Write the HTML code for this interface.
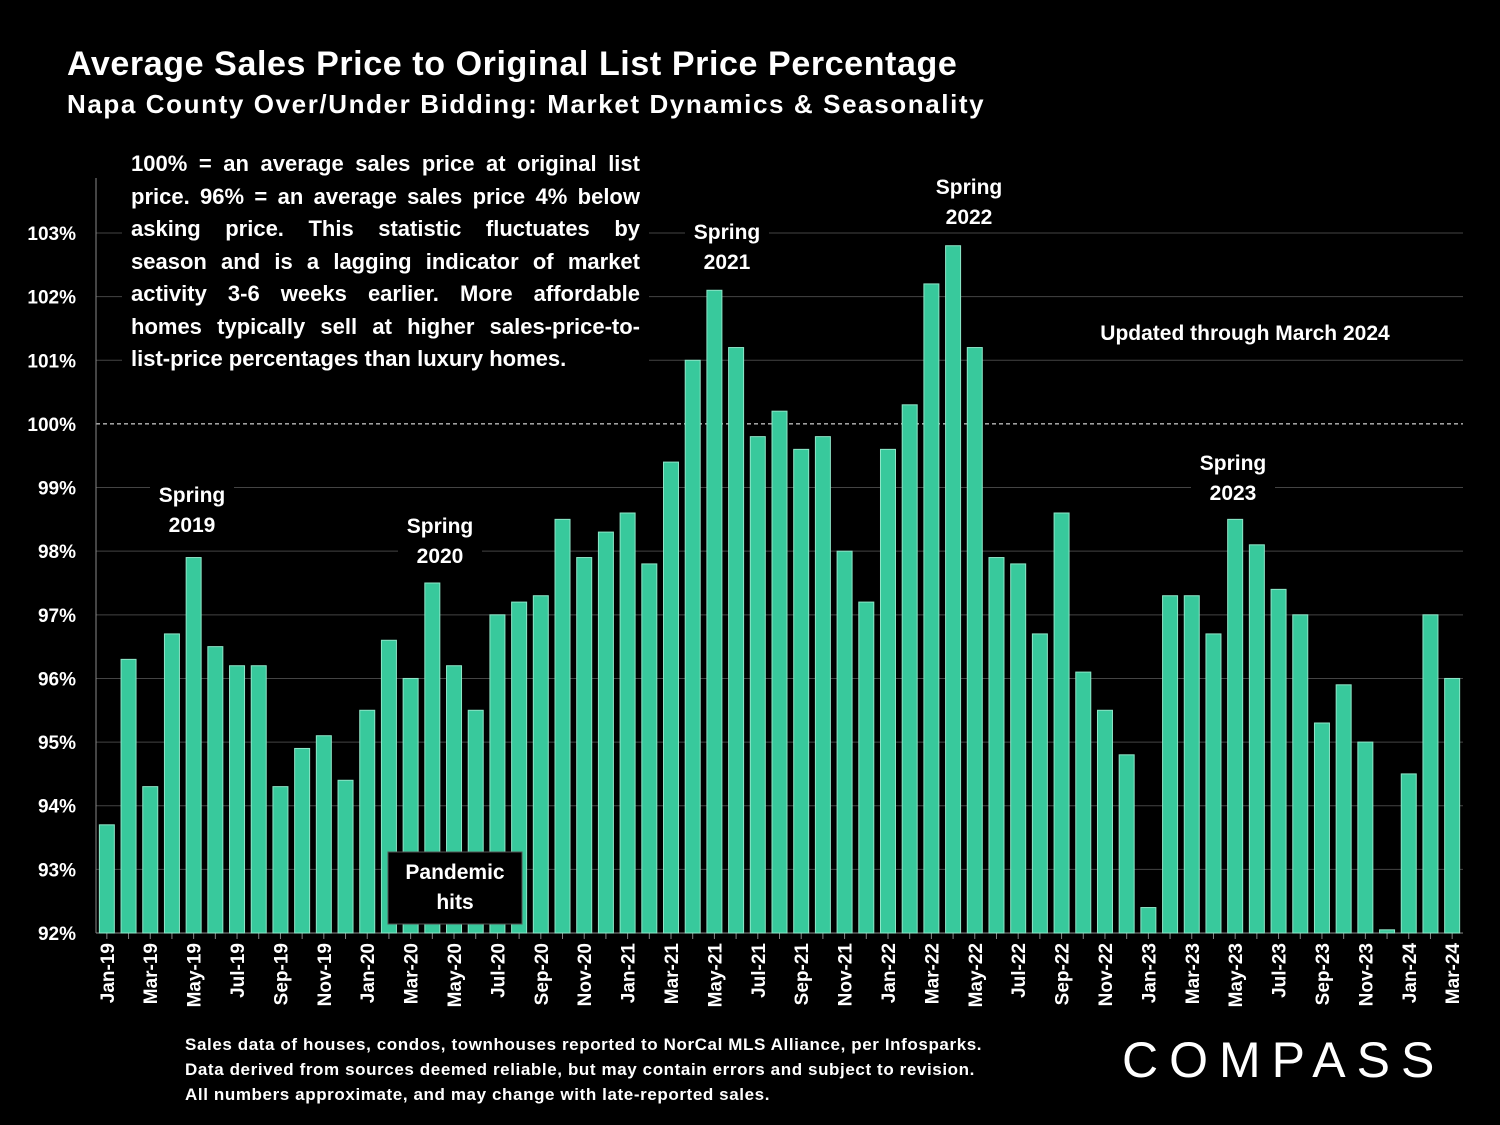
<!DOCTYPE html>
<html><head><meta charset="utf-8"><style>
body{margin:0;background:#000;width:1500px;height:1125px;overflow:hidden;font-family:"Liberation Sans",sans-serif;color:#fff}
.ln{text-align:justify;text-align-last:justify;height:32.5px;white-space:nowrap}
.ln.last{text-align-last:left}
</style></head><body>
<svg id="chart" width="1500" height="1125" xmlns="http://www.w3.org/2000/svg" style="position:absolute;left:0;top:0">
<text x="67" y="75" font-size="34" font-weight="bold" fill="#fff" letter-spacing="0.6">Average Sales Price to Original List Price Percentage</text>
<text x="67" y="113" font-size="26" font-weight="bold" fill="#fff" letter-spacing="1.6">Napa County Over/Under Bidding: Market Dynamics &amp; Seasonality</text>
<g id="grid"></g><g id="bars"></g><g id="xlabels"></g>
</svg>
<script>
const categories=["Jan-19","Feb-19","Mar-19","Apr-19","May-19","Jun-19","Jul-19","Aug-19","Sep-19","Oct-19","Nov-19","Dec-19","Jan-20","Feb-20","Mar-20","Apr-20","May-20","Jun-20","Jul-20","Aug-20","Sep-20","Oct-20","Nov-20","Dec-20","Jan-21","Feb-21","Mar-21","Apr-21","May-21","Jun-21","Jul-21","Aug-21","Sep-21","Oct-21","Nov-21","Dec-21","Jan-22","Feb-22","Mar-22","Apr-22","May-22","Jun-22","Jul-22","Aug-22","Sep-22","Oct-22","Nov-22","Dec-22","Jan-23","Feb-23","Mar-23","Apr-23","May-23","Jun-23","Jul-23","Aug-23","Sep-23","Oct-23","Nov-23","Dec-23","Jan-24","Feb-24","Mar-24"];
const values=[93.7,96.3,94.3,96.7,97.9,96.5,96.2,96.2,94.3,94.9,95.1,94.4,95.5,96.6,96.0,97.5,96.2,95.5,97.0,97.2,97.3,98.5,97.9,98.3,98.6,97.8,99.4,101.0,102.1,101.2,99.8,100.2,99.6,99.8,98.0,97.2,99.6,100.3,102.2,102.8,101.2,97.9,97.8,96.7,98.6,96.1,95.5,94.8,92.4,97.3,97.3,96.7,98.5,98.1,97.4,97.0,95.3,95.9,95.0,92.05,94.5,97.0,96.0];
const yTicks=[92,93,94,95,96,97,98,99,100,101,102,103];
const NS="http://www.w3.org/2000/svg";
const X0=96,X1=1463,Y0=933,Ymin=92,Ymax=103,Ytop=233;
const y=v=>Y0-(v-Ymin)*(Y0-Ytop)/(Ymax-Ymin);
const step=(X1-X0)/categories.length;
const xc=i=>X0+step*(i+0.5);
function mk(t,a,p){const e=document.createElementNS(NS,t);for(const k in a)e.setAttribute(k,a[k]);p.appendChild(e);return e;}
const grid=document.getElementById('grid'),bars=document.getElementById('bars'),xl=document.getElementById('xlabels');
yTicks.forEach(t=>{
 const l=mk('line',{x1:X0,x2:X1,y1:y(t),y2:y(t),stroke:t===100?'#fff':'#444','stroke-width':1,'stroke-dasharray':t===100?'4,3':''},grid);
 
 
 const tx=mk('text',{x:76,y:y(t)+7,'text-anchor':'end','font-size':19,'font-weight':'bold',fill:'#fff'},grid);
 tx.textContent=t+'%';
 
 
});
const ax=mk('line',{x1:X0,x2:X0,y1:178,y2:Y0,stroke:'#888'},grid);


const bx=mk('line',{x1:X0,x2:X1,y1:Y0,y2:Y0,stroke:'#888'},grid);


values.forEach((v,i)=>{
 const r=mk('rect',{x:xc(i)-7.5,y:y(v),width:15,height:Y0-y(v),fill:'#38c99c',stroke:'#8fe6c8','stroke-width':1},bars);
 
 
 mk('line',{x1:xc(i),x2:xc(i),y1:Y0,y2:Y0+6,stroke:'#888'},grid);
 if(i%2===0){
  const t=mk('text',{transform:`translate(${xc(i)+7},${Y0+10}) rotate(-90)`,'text-anchor':'end','font-size':19,'font-weight':'bold',fill:'#fff'},xl);
  t.textContent=categories[i];
  
  
 }
});
function ann(lines,cx,cy,name,box){
 const g=mk('g',{},document.getElementById('chart'));
 
 
 if(box)mk('rect',box,g);
 lines.forEach((s,k)=>{const t=mk('text',{x:cx,y:cy+k*30,'text-anchor':'middle','font-size':21,'font-weight':'bold',fill:'#fff'},g);t.textContent=s;});
}
ann(['Spring','2019'],192,502,'annotation-spring-2019',{x:150,y:478,width:84,height:62,fill:'#000'});
ann(['Spring','2020'],440,533,'annotation-spring-2020',{x:398,y:509,width:84,height:62,fill:'#000'});
ann(['Spring','2021'],727,239,'annotation-spring-2021',{x:685,y:215,width:84,height:62,fill:'#000'});
ann(['Spring','2022'],969,194,'annotation-spring-2022',{x:900,y:170,width:140,height:62,fill:'#000'});
ann(['Spring','2023'],1233,470,'annotation-spring-2023',{x:1191,y:446,width:84,height:62,fill:'#000'});
ann(['Pandemic','hits'],455,879,'annotation-pandemic',{x:388,y:852,width:134,height:72,fill:'#000',stroke:'#555'});
ann(['Updated through March 2024'],1245,340,'updated-note',{x:1085,y:316,width:320,height:34,fill:'#000'});
</script>
<div style="position:absolute;left:122px;top:148px;width:509px;padding:0 9px;background:#000;font-size:22px;font-weight:bold;line-height:32.5px">
<div class="ln">100% = an average sales price at original list</div>
<div class="ln">price. 96% = an average sales price 4% below</div>
<div class="ln">asking price. This statistic fluctuates by</div>
<div class="ln">season and is a lagging indicator of market</div>
<div class="ln">activity 3-6 weeks earlier. More affordable</div>
<div class="ln">homes typically sell at higher sales-price-to-</div>
<div class="ln last">list-price percentages than luxury homes.</div>
</div>
<div style="position:absolute;left:185px;top:1032px;font-size:17px;font-weight:bold;line-height:25px;letter-spacing:0.6px">Sales data of houses, condos, townhouses reported to NorCal MLS Alliance, per Infosparks.<br>Data derived from sources deemed reliable, but may contain errors and subject to revision.<br>All numbers approximate, and may change with late-reported sales.</div>
<div style="position:absolute;left:1122px;top:1030px;font-size:50px;letter-spacing:11px;line-height:60px">COMPASS</div>
</body></html>
